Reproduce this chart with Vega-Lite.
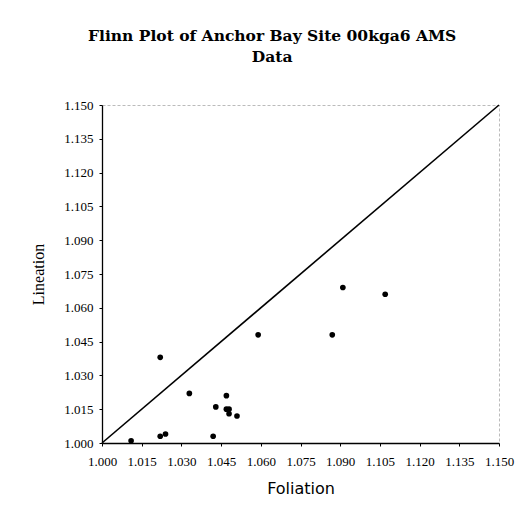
{
  "$schema": "https://vega.github.io/schema/vega-lite/v6.json",
  "width": 397,
  "height": 338,
  "autosize": "none",
  "padding": {"left": 102, "top": 105, "right": 23, "bottom": 74},
  "background": "white",
  "title": {
    "text": ["Flinn Plot of Anchor Bay Site 00kga6 AMS", "Data"],
    "font": "DejaVu Serif",
    "fontSize": 15.5,
    "fontWeight": "bold",
    "color": "black",
    "anchor": "middle",
    "frame": "bounds",
    "offset": 34,
    "lineHeight": 21
  },
  "config": {
    "view": {"stroke": "#bbbbbb", "strokeDash": [3, 2], "strokeWidth": 1},
    "axis": {
      "grid": false,
      "domainColor": "black",
      "domainWidth": 1.3,
      "tickColor": "black",
      "tickSize": 3,
      "labelFont": "Liberation Serif",
      "labelFontSize": 13,
      "labelColor": "black",
      "labelOverlap": false,
      "labelFlush": false,
      "titleColor": "black",
      "titleFontWeight": "normal"
    }
  },
  "datasets": {
    "pts": [
      {"F": 1.011, "L": 1.001},
      {"F": 1.022, "L": 1.038},
      {"F": 1.022, "L": 1.003},
      {"F": 1.024, "L": 1.004},
      {"F": 1.033, "L": 1.022},
      {"F": 1.043, "L": 1.016},
      {"F": 1.047, "L": 1.021},
      {"F": 1.047, "L": 1.015},
      {"F": 1.048, "L": 1.015},
      {"F": 1.048, "L": 1.013},
      {"F": 1.051, "L": 1.012},
      {"F": 1.042, "L": 1.003},
      {"F": 1.059, "L": 1.048},
      {"F": 1.087, "L": 1.048},
      {"F": 1.091, "L": 1.069},
      {"F": 1.107, "L": 1.066}
    ],
    "diag": [
      {"F": 1.0, "L": 1.0},
      {"F": 1.15, "L": 1.15}
    ]
  },
  "encoding": {
    "x": {
      "field": "F", "type": "quantitative",
      "scale": {"domain": [1.0, 1.15], "nice": false, "zero": false},
      "axis": {
        "values": [1.0, 1.015, 1.03, 1.045, 1.06, 1.075, 1.09, 1.105, 1.12, 1.135, 1.15],
        "format": ".3f",
        "labelOverlap": false,
        "labelFlush": false,
        "labelPadding": 9,
        "title": "Foliation",
        "titleFont": "DejaVu Sans",
        "titleFontSize": 16,
        "titlePadding": 12
      }
    },
    "y": {
      "field": "L", "type": "quantitative",
      "scale": {"domain": [1.0, 1.15], "nice": false, "zero": false},
      "axis": {
        "values": [1.0, 1.015, 1.03, 1.045, 1.06, 1.075, 1.09, 1.105, 1.12, 1.135, 1.15],
        "format": ".3f",
        "labelOverlap": false,
        "labelFlush": false,
        "labelPadding": 6,
        "title": "Lineation",
        "titleFont": "Liberation Serif",
        "titleFontSize": 16,
        "titlePadding": 17
      }
    }
  },
  "layer": [
    {
      "data": {"name": "diag"},
      "mark": {"type": "line", "color": "black", "strokeWidth": 1.6}
    },
    {
      "data": {"name": "pts"},
      "mark": {"type": "point", "filled": true, "color": "black", "opacity": 1, "size": 32}
    }
  ]
}
